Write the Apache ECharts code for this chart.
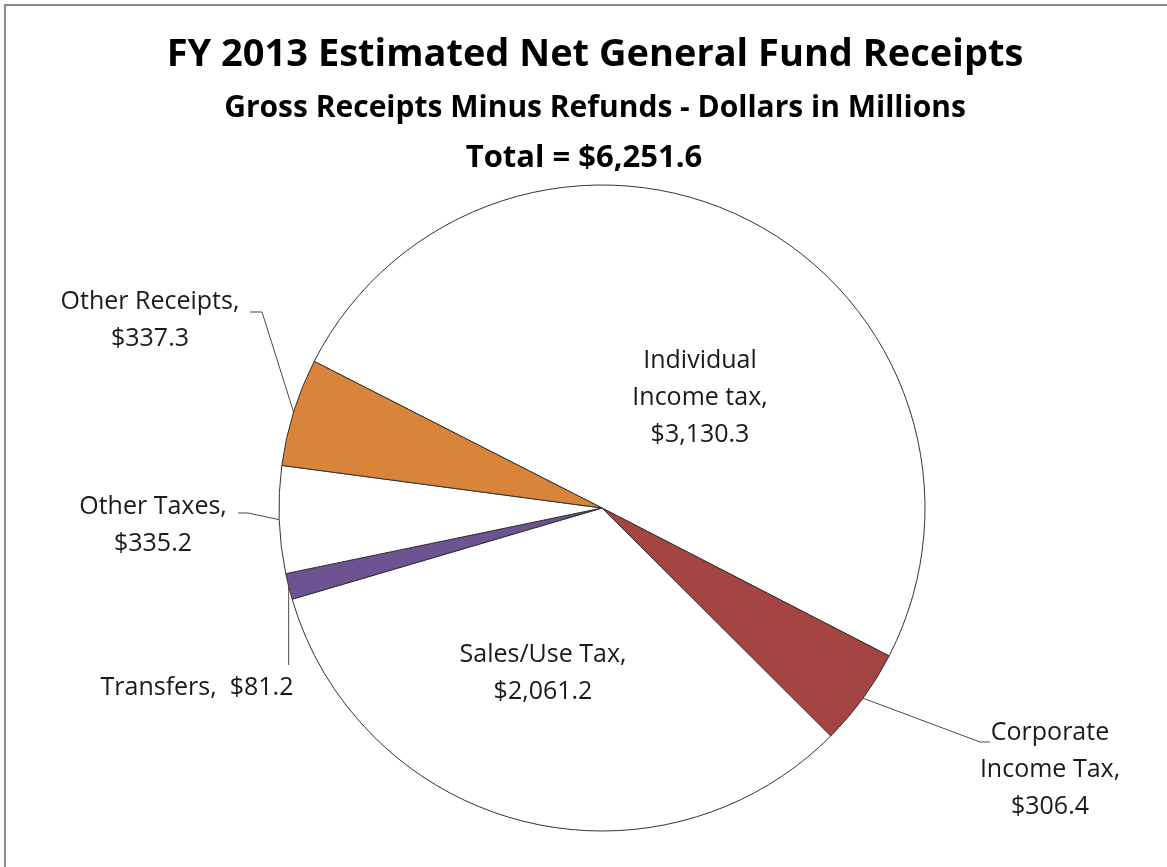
<!DOCTYPE html>
<html>
<head>
<meta charset="utf-8">
<title>FY 2013 Estimated Net General Fund Receipts</title>
<script src="https://cdn.jsdelivr.net/npm/echarts@6/dist/echarts.min.js"></script>
<style>
  html, body { margin: 0; padding: 0; background: #fff; }
  #frame {
    position: absolute; left: 4px; top: 4px; width: 1163px; height: 863px;
    border-left: 2px solid #8a8a8a; border-top: 2px solid #8a8a8a; box-sizing: border-box;
  }
  #chart { position: absolute; left: 0; top: 0; width: 1167px; height: 867px; }
</style>
</head>
<body>
<div id="frame"></div>
<div id="chart"></div>
<script>
// Receipt categories, in clockwise order starting from Individual Income tax
const categories = ['Individual Income tax', 'Corporate Income Tax', 'Sales/Use Tax', 'Transfers', 'Other Taxes', 'Other Receipts'];
// Label wording with the line breaks used on the chart
const labelNames = ['Individual\nIncome tax', 'Corporate\nIncome Tax', 'Sales/Use Tax', 'Transfers', 'Other Taxes', 'Other Receipts'];
// Dollars in millions
const values = [3130.3, 306.4, 2061.2, 81.2, 335.2, 337.3];

const sliceColors = ['#ffffff', '#a54543', '#ffffff', '#6e5392', '#ffffff', '#d9843b'];

const fmt = v => '$' + v.toLocaleString('en-US', { minimumFractionDigits: 1, maximumFractionDigits: 1 });
const total = values.reduce((a, b) => a + b, 0);

// label placement: centre of the text block, separator between name and value,
// and the bend / end points of the leader line (null = no leader)
const labelPlacement = [
  { x: 700, y: 398, sep: '\n', line: null },
  { x: 1050, y: 770, sep: '\n', line: [[980, 742], [990, 742]] },
  { x: 543, y: 673, sep: '\n', line: null },
  { x: 197, y: 688, sep: '  ', line: 'down' },
  { x: 153, y: 525, sep: '\n', line: [[248, 513], [238, 513]] },
  { x: 150, y: 320, sep: '\n', line: [[262, 312], [250, 312]] }
];

const chart = echarts.init(document.getElementById('chart'), null, { renderer: 'canvas' });

const font = '"Open Sans", Lato, "DejaVu Sans", sans-serif';

chart.setOption({
  animation: false,
  backgroundColor: 'transparent',
  title: [
    { text: 'FY 2013 Estimated Net General Fund Receipts', left: 590, top: 31, textAlign: 'center',
      textStyle: { fontFamily: font, fontWeight: 'bold', fontSize: 38, color: '#000' } },
    { text: 'Gross Receipts Minus Refunds - Dollars in Millions', left: 590, top: 88, textAlign: 'center',
      textStyle: { fontFamily: font, fontWeight: 'bold', fontSize: 30, color: '#000' } },
    { text: 'Total = ' + fmt(total), left: 579, top: 138, textAlign: 'center',
      textStyle: { fontFamily: font, fontWeight: 'bold', fontSize: 31, color: '#000' } }
  ],
  series: [{
    type: 'pie',
    center: [602, 508],
    radius: 323,
    startAngle: 153,
    clockwise: true,
    avoidLabelOverlap: false,
    emphasis: { disabled: true },
    itemStyle: { borderColor: '#333333', borderWidth: 1 },
    label: {
      show: true,
      position: 'outside',
      fontFamily: font,
      fontSize: 25,
      lineHeight: 37,
      color: '#1a1a1a',
      align: 'center',
      formatter: p => labelNames[p.dataIndex] + ',' + labelPlacement[p.dataIndex].sep + fmt(p.value)
    },
    labelLine: { show: true, lineStyle: { color: '#4a4a4a', width: 1 } },
    labelLayout: function (params) {
      const lp = labelPlacement[params.dataIndex];
      const out = { x: lp.x, y: lp.y, align: 'center', verticalAlign: 'middle' };
      if (lp.line && params.labelLinePoints) {
        const a = params.labelLinePoints[0];
        if (lp.line === 'down') {
          out.labelLinePoints = [a, [a[0], (a[1] + 665) / 2], [a[0], 665]];
        } else {
          out.labelLinePoints = [a, lp.line[0], lp.line[1]];
        }
      }
      return out;
    },
    data: categories.map((c, i) => ({
      name: c,
      value: values[i],
      itemStyle: { color: sliceColors[i] },
      labelLine: { show: labelPlacement[i].line !== null }
    }))
  }]
});
</script>
</body>
</html>
